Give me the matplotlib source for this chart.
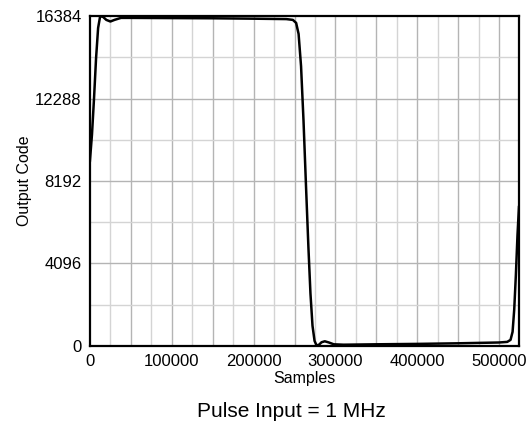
import numpy as np
import matplotlib
matplotlib.use('Agg')
import matplotlib.pyplot as plt

# samples / output code read from the captured pulse
samples = [0, 2500, 5000, 7500, 10000, 12500, 16000, 20000, 25000, 30000,
           38000, 50000, 100000, 150000, 200000, 240000, 248000, 252000,
           255000, 258000, 261000, 264000, 267000, 269500, 272000, 274500,
           277000, 280000, 283000, 287000, 292000, 298000, 310000, 350000,
           400000, 450000, 500000, 510000, 514000, 516500, 518500, 520500,
           522500, 524288]
code = [9200, 10500, 12300, 14300, 15800, 16384, 16350, 16200, 16120, 16200,
        16300, 16300, 16290, 16280, 16260, 16240, 16200, 16050,
        15500, 13900, 11200, 8000, 4900, 2600, 1000, 250,
        20, 60, 180, 230, 170, 80, 60, 80,
        100, 130, 170, 200, 300, 700, 1800, 3500,
        5500, 6900]

xticks = [0, 100000, 200000, 300000, 400000, 500000]
yticks = [0, 4096, 8192, 12288, 16384]

plt.rcParams['font.family'] = ['Liberation Sans', 'DejaVu Sans']

fig = plt.figure(figsize=(5.29, 4.26), dpi=100)
ax = fig.add_axes([0.170, 0.188, 0.811, 0.774])

# grid: minor every 25000 / 2048, darker every 50000 / 4096
for xv in np.arange(25000, 524288, 25000):
    c = '#b4b4b4' if xv % 50000 == 0 else '#d4d4d4'
    ax.axvline(xv, color=c, lw=1.0, zorder=0)
for yv in np.arange(2048, 16384, 2048):
    c = '#b4b4b4' if yv % 4096 == 0 else '#d4d4d4'
    ax.axhline(yv, color=c, lw=1.0, zorder=0)

ax.plot(samples, code, color='black', lw=1.8, zorder=3)

ax.set_xlim(0, 524288)
ax.set_ylim(0, 16384)
ax.set_xticks(xticks)
ax.set_yticks(yticks)
ax.set_xticklabels([str(v) for v in xticks])
ax.set_yticklabels([str(v) for v in yticks])
ax.tick_params(length=0, labelsize=12, pad=6)
for sp in ax.spines.values():
    sp.set_linewidth(1.6)

ax.set_xlabel('Samples', fontsize=11.5, labelpad=1)
ax.set_ylabel('Output Code', fontsize=11.5, labelpad=2)
fig.text(0.55, 0.022, 'Pulse Input = 1 MHz', ha='center', fontsize=15)

fig.savefig('out.png', dpi=100)
